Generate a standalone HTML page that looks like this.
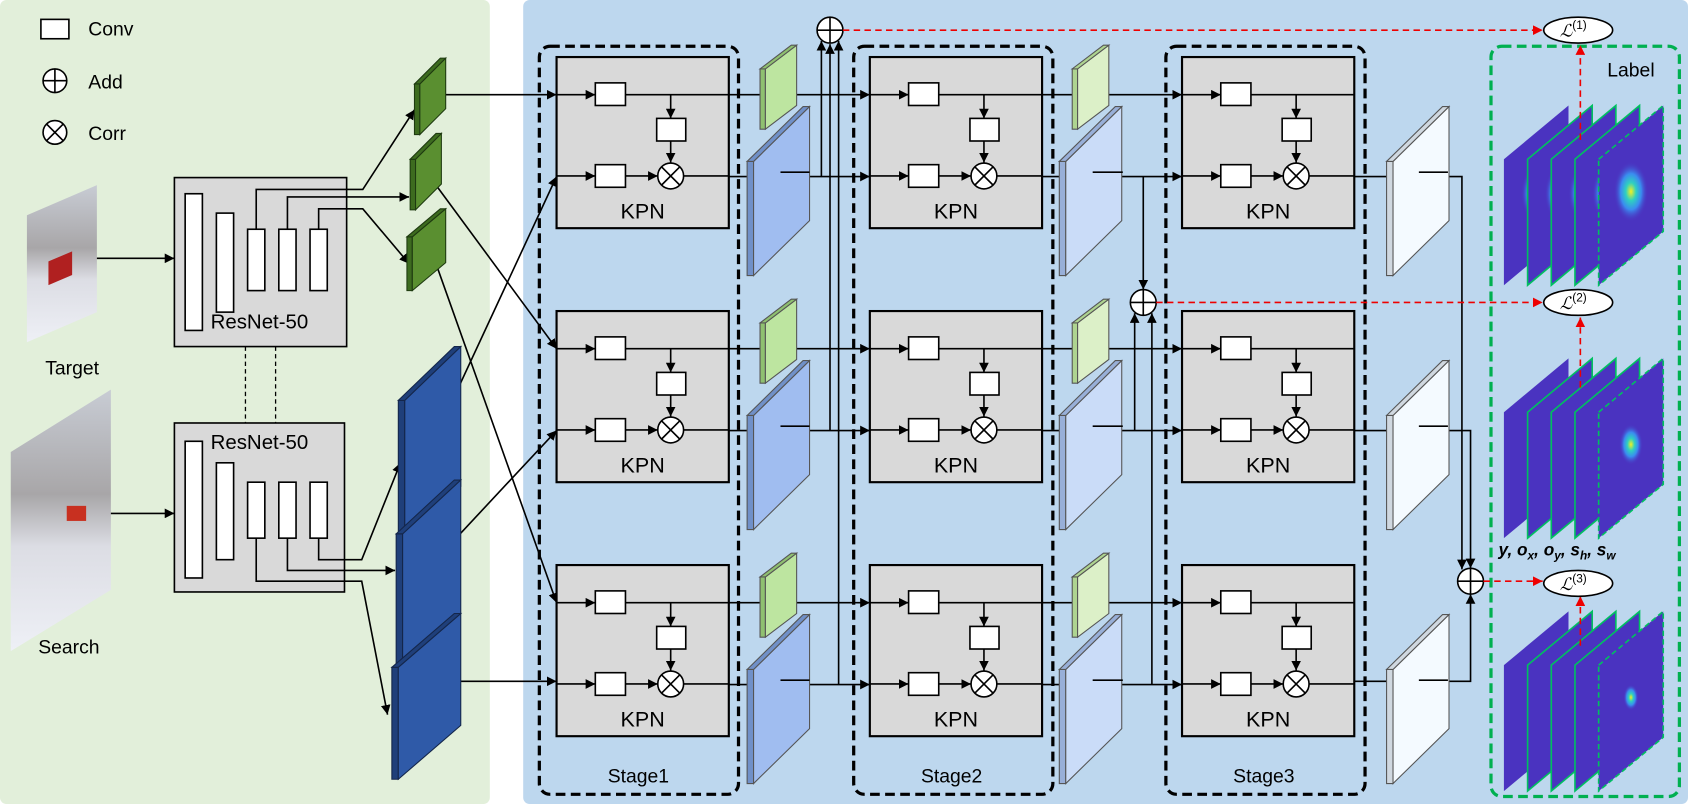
<!DOCTYPE html>
<html><head><meta charset="utf-8"><style>html,body{margin:0;padding:0;background:#fff}svg{display:block}text{font-family:"Liberation Sans",sans-serif}</style></head><body>
<svg width="1688" height="804" viewBox="0 0 1568 747" preserveAspectRatio="none" xmlns="http://www.w3.org/2000/svg">
<defs>
<marker id="a" viewBox="0 0 10 10" refX="10" refY="5" markerWidth="9" markerHeight="9" markerUnits="userSpaceOnUse" orient="auto"><path d="M0,0L10,5L0,10z" fill="#000"/></marker>
<marker id="r" viewBox="0 0 10 10" refX="10" refY="5" markerWidth="9" markerHeight="9" markerUnits="userSpaceOnUse" orient="auto"><path d="M0,0L10,5L0,10z" fill="#e00"/></marker>
<radialGradient id="g1" cx="0.5" cy="0.5" r="0.5"><stop offset="0" stop-color="#f4f020"/><stop offset="0.3" stop-color="#2fd0c0"/><stop offset="0.6" stop-color="#3a8cf0"/><stop offset="1" stop-color="#4a33c0" stop-opacity="0"/></radialGradient>
<linearGradient id="photo" x1="0" y1="0" x2="0" y2="1"><stop offset="0" stop-color="#c8ccd4"/><stop offset="0.4" stop-color="#a8a6a8"/><stop offset="0.6" stop-color="#dcdde4"/><stop offset="1" stop-color="#eef0f6"/></linearGradient>
</defs>
<rect x="0" y="0" width="455" height="747" rx="6" fill="#e2efda"/>
<rect x="486" y="0" width="1082" height="747" rx="6" fill="#bdd7ee"/>
<!-- legend -->
<rect x="38" y="18" width="26" height="18" fill="#fff" stroke="#000" stroke-width="1.5"/>
<text x="82" y="33" font-size="18">Conv</text>
<circle cx="51" cy="75" r="11" fill="#fff" stroke="#000" stroke-width="1.5"/><path d="M40,75h22M51,64v22" stroke="#000" stroke-width="1.5"/>
<text x="82" y="82" font-size="18">Add</text>
<circle cx="51" cy="123" r="11" fill="#fff" stroke="#000" stroke-width="1.5"/><path d="M43.2,115.2l15.6,15.6M58.8,115.2l-15.6,15.6" stroke="#000" stroke-width="1.5"/>
<text x="82" y="130" font-size="18">Corr</text>
<!-- photos -->
<polygon points="25,200 90,172 90,290 25,318" fill="url(#photo)"/>
<rect x="45" y="240" width="22" height="22" fill="#b02020" transform="skewY(-23) translate(0,22)"/>
<text x="67" y="348" font-size="18" text-anchor="middle">Target</text>
<polygon points="10,420 103,362 103,548 10,605" fill="url(#photo)"/>
<rect x="62" y="470" width="18" height="14" fill="#c83020"/>
<text x="64" y="607" font-size="18" text-anchor="middle">Search</text>
<path d="M90,240H162" stroke="#000" stroke-width="1.5" marker-end="url(#a)"/>
<path d="M103,477H162" stroke="#000" stroke-width="1.5" marker-end="url(#a)"/>
<!-- resnets -->
<rect x="162" y="165" width="160" height="157" fill="#d9d9d9" stroke="#000" stroke-width="1.5"/>
<g fill="#fff" stroke="#000" stroke-width="1.5"><rect x="172" y="180" width="16" height="127"/><rect x="201" y="198" width="16" height="92"/><rect x="230" y="213" width="16" height="57"/><rect x="259" y="213" width="16" height="57"/><rect x="288" y="213" width="16" height="57"/></g>
<text x="241" y="305" font-size="19" text-anchor="middle">ResNet-50</text>
<rect x="162" y="393" width="158" height="157" fill="#d9d9d9" stroke="#000" stroke-width="1.5"/>
<g fill="#fff" stroke="#000" stroke-width="1.5"><rect x="172" y="410" width="16" height="127"/><rect x="201" y="430" width="16" height="90"/><rect x="230" y="448" width="16" height="52"/><rect x="259" y="448" width="16" height="52"/><rect x="288" y="448" width="16" height="52"/></g>
<text x="241" y="417" font-size="19" text-anchor="middle">ResNet-50</text>
<path d="M228,322V393M256,322V393" stroke="#000" stroke-width="1.2" stroke-dasharray="4,3"/>
<g stroke="#000" stroke-width="1.5" fill="none">
<path d="M238,213V176H337L385,102" marker-end="url(#a)"/>
<path d="M267,213V183H380" marker-end="url(#a)"/>
<path d="M296,213V194H337L380,245" marker-end="url(#a)"/>
<path d="M296,500V520H336L372,430" marker-end="url(#a)"/>
<path d="M267,500V530H367" marker-end="url(#a)"/>
<path d="M238,500V540H336L360,664" marker-end="url(#a)"/>
<!-- feature to KPN -->
<path d="M405,88H517" marker-end="url(#a)"/>
<path d="M405,172L517,324" marker-end="url(#a)"/>
<path d="M405,245L517,560" marker-end="url(#a)"/>
<path d="M405,405L517,164" marker-end="url(#a)"/>
<path d="M405,520L517,400" marker-end="url(#a)"/>
<path d="M405,633H517" marker-end="url(#a)"/>
</g>
<!-- left feature slabs -->
<g stroke="#1e3a10" stroke-width="1">
<polygon points="385,78 390,78 390,125 385,125" fill="#3d6b1f"/><polygon points="390,78 414,54 414,101 390,125" fill="#5a8f30"/><polygon points="385,78 409,54 414,54 390,78" fill="#3d6b1f"/>
<polygon points="381,148 386,148 386,195 381,195" fill="#3d6b1f"/><polygon points="386,148 410,124 410,171 386,195" fill="#5a8f30"/><polygon points="381,148 405,124 410,124 386,148" fill="#3d6b1f"/>
<polygon points="378,220 383,220 383,270 378,270" fill="#3d6b1f"/><polygon points="383,220 414,194 414,244 383,270" fill="#5a8f30"/><polygon points="378,220 409,194 414,194 383,220" fill="#3d6b1f"/>
</g>
<g stroke="#14264a" stroke-width="1">
<polygon points="370,372 376,372 376,502 370,502" fill="#1f3f7a"/><polygon points="376,372 428,322 428,452 376,502" fill="#2f5aa8"/><polygon points="370,372 422,322 428,322 376,372" fill="#1f3f7a"/>
<polygon points="368,496 374,496 374,620 368,620" fill="#1f3f7a"/><polygon points="374,496 428,446 428,570 374,620" fill="#2f5aa8"/><polygon points="368,496 422,446 428,446 374,496" fill="#1f3f7a"/>
<polygon points="364,620 370,620 370,724 364,724" fill="#1f3f7a"/><polygon points="370,620 428,570 428,674 370,724" fill="#2f5aa8"/><polygon points="364,620 422,570 428,570 370,620" fill="#1f3f7a"/>
</g>
<!-- stage dashed boxes -->
<g fill="none" stroke="#000" stroke-width="3" stroke-dasharray="9,5">
<rect x="501" y="43" width="185" height="695" rx="10"/>
<rect x="793" y="43" width="185" height="695" rx="10"/>
<rect x="1083" y="43" width="185" height="695" rx="10"/>
</g>
<rect x="1385" y="43" width="175" height="697" rx="10" fill="none" stroke="#00b050" stroke-width="3" stroke-dasharray="9,5"/>
<text x="593" y="727" font-size="18" text-anchor="middle">Stage1</text>
<text x="884" y="727" font-size="18" text-anchor="middle">Stage2</text>
<text x="1174" y="727" font-size="18" text-anchor="middle">Stage3</text>
<text x="1515" y="71" font-size="18" text-anchor="middle">Label</text>
<!-- inter-stage lines -->
<g stroke="#000" stroke-width="1.5" fill="none">
<path d="M677,88H808" marker-end="url(#a)"/><path d="M677,324H808" marker-end="url(#a)"/><path d="M677,560H808" marker-end="url(#a)"/>
<path d="M677,164H808" marker-end="url(#a)"/><path d="M677,400H808" marker-end="url(#a)"/><path d="M677,636H808" marker-end="url(#a)"/>
<path d="M968,88H1098" marker-end="url(#a)"/><path d="M968,324H1098" marker-end="url(#a)"/><path d="M968,560H1098" marker-end="url(#a)"/>
<path d="M968,164H1098" marker-end="url(#a)"/><path d="M968,400H1098" marker-end="url(#a)"/><path d="M968,636H1098" marker-end="url(#a)"/>
<path d="M763,164V38" marker-end="url(#a)"/><path d="M771,400V41" marker-end="url(#a)"/><path d="M779,636V38" marker-end="url(#a)"/>
<path d="M1062,164V269" marker-end="url(#a)"/><path d="M1054,400V291" marker-end="url(#a)"/><path d="M1070,636V291" marker-end="url(#a)"/>
<path d="M1258,164H1358V529" marker-end="url(#a)"/><path d="M1258,400H1366V528" marker-end="url(#a)"/><path d="M1258,633H1366V552" marker-end="url(#a)"/>
</g>
<!-- slabs stage outputs -->
<g stroke="#555" stroke-width="1">
<g id="s1">
<polygon points="706,64 711,64 711,120 706,120" fill="#8fc070"/><polygon points="711,64 740,42 740,98 711,120" fill="#bde5a0"/><polygon points="706,64 735,42 740,42 711,64" fill="#8fc070"/>
<polygon points="694,150 700,150 700,256 694,256" fill="#7090c8"/><polygon points="700,150 752,99 752,205 700,256" fill="#a0bdf0"/><polygon points="694,150 746,99 752,99 700,150" fill="#7090c8"/>
</g>
<g transform="translate(0,236)"><polygon points="706,64 711,64 711,120 706,120" fill="#8fc070"/><polygon points="711,64 740,42 740,98 711,120" fill="#bde5a0"/><polygon points="706,64 735,42 740,42 711,64" fill="#8fc070"/><polygon points="694,150 700,150 700,256 694,256" fill="#7090c8"/><polygon points="700,150 752,99 752,205 700,256" fill="#a0bdf0"/><polygon points="694,150 746,99 752,99 700,150" fill="#7090c8"/></g>
<g transform="translate(0,472)"><polygon points="706,64 711,64 711,120 706,120" fill="#8fc070"/><polygon points="711,64 740,42 740,98 711,120" fill="#bde5a0"/><polygon points="706,64 735,42 740,42 711,64" fill="#8fc070"/><polygon points="694,150 700,150 700,256 694,256" fill="#7090c8"/><polygon points="700,150 752,99 752,205 700,256" fill="#a0bdf0"/><polygon points="694,150 746,99 752,99 700,150" fill="#7090c8"/></g>
<g transform="translate(290,0)"><polygon points="706,64 711,64 711,120 706,120" fill="#aed490"/><polygon points="711,64 740,42 740,98 711,120" fill="#dcf0c8"/><polygon points="706,64 735,42 740,42 711,64" fill="#aed490"/><polygon points="694,150 700,150 700,256 694,256" fill="#98afd8"/><polygon points="700,150 752,99 752,205 700,256" fill="#cadcf8"/><polygon points="694,150 746,99 752,99 700,150" fill="#98afd8"/></g>
<g transform="translate(290,236)"><polygon points="706,64 711,64 711,120 706,120" fill="#aed490"/><polygon points="711,64 740,42 740,98 711,120" fill="#dcf0c8"/><polygon points="706,64 735,42 740,42 711,64" fill="#aed490"/><polygon points="694,150 700,150 700,256 694,256" fill="#98afd8"/><polygon points="700,150 752,99 752,205 700,256" fill="#cadcf8"/><polygon points="694,150 746,99 752,99 700,150" fill="#98afd8"/></g>
<g transform="translate(290,472)"><polygon points="706,64 711,64 711,120 706,120" fill="#aed490"/><polygon points="711,64 740,42 740,98 711,120" fill="#dcf0c8"/><polygon points="706,64 735,42 740,42 711,64" fill="#aed490"/><polygon points="694,150 700,150 700,256 694,256" fill="#98afd8"/><polygon points="700,150 752,99 752,205 700,256" fill="#cadcf8"/><polygon points="694,150 746,99 752,99 700,150" fill="#98afd8"/></g>
<g transform="translate(594,0)"><polygon points="694,150 700,150 700,256 694,256" fill="#d0d8e0"/><polygon points="700,150 752,99 752,205 700,256" fill="#f4faff"/><polygon points="694,150 746,99 752,99 700,150" fill="#d0d8e0"/></g>
<g transform="translate(594,236)"><polygon points="694,150 700,150 700,256 694,256" fill="#d0d8e0"/><polygon points="700,150 752,99 752,205 700,256" fill="#f4faff"/><polygon points="694,150 746,99 752,99 700,150" fill="#d0d8e0"/></g>
<g transform="translate(594,472)"><polygon points="694,150 700,150 700,256 694,256" fill="#d0d8e0"/><polygon points="700,150 752,99 752,205 700,256" fill="#f4faff"/><polygon points="694,150 746,99 752,99 700,150" fill="#d0d8e0"/></g>
</g>
<!-- short line stubs out of slabs -->
<g stroke="#000" stroke-width="1.5"><path d="M725,160H752M725,396H752M725,632H752M1015,160H1043M1015,396H1043M1015,632H1043M1318,160H1345M1318,396H1345M1318,632H1345"/></g>
<!-- KPN blocks -->
<g id="k" transform="translate(517,53)">
<rect x="0" y="0" width="160" height="159" fill="#d9d9d9" stroke="#000" stroke-width="2"/>
<g stroke="#000" stroke-width="1.5" fill="none"><path d="M0,35H36" marker-end="url(#a)"/><path d="M64,35H160"/><path d="M106,35V57" marker-end="url(#a)"/><path d="M106,78V98" marker-end="url(#a)"/><path d="M0,110.5H36" marker-end="url(#a)"/><path d="M64,110.5H94" marker-end="url(#a)"/><path d="M118,110.5H160"/></g>
<g fill="#fff" stroke="#000" stroke-width="1.5"><rect x="36" y="24" width="28" height="21"/><rect x="36" y="100" width="28" height="21"/><rect x="93" y="57" width="27" height="21"/><circle cx="106" cy="110.5" r="12"/></g>
<path d="M97.5,102l17,17M114.5,102l-17,17" stroke="#000" stroke-width="1.5"/>
<text x="80" y="150" font-size="20" text-anchor="middle">KPN</text>
</g>
<g transform="translate(517,289)"><rect x="0" y="0" width="160" height="159" fill="#d9d9d9" stroke="#000" stroke-width="2"/><g stroke="#000" stroke-width="1.5" fill="none"><path d="M0,35H36" marker-end="url(#a)"/><path d="M64,35H160"/><path d="M106,35V57" marker-end="url(#a)"/><path d="M106,78V98" marker-end="url(#a)"/><path d="M0,110.5H36" marker-end="url(#a)"/><path d="M64,110.5H94" marker-end="url(#a)"/><path d="M118,110.5H160"/></g><g fill="#fff" stroke="#000" stroke-width="1.5"><rect x="36" y="24" width="28" height="21"/><rect x="36" y="100" width="28" height="21"/><rect x="93" y="57" width="27" height="21"/><circle cx="106" cy="110.5" r="12"/></g><path d="M97.5,102l17,17M114.5,102l-17,17" stroke="#000" stroke-width="1.5"/><text x="80" y="150" font-size="20" text-anchor="middle">KPN</text></g>
<g transform="translate(517,525)"><rect x="0" y="0" width="160" height="159" fill="#d9d9d9" stroke="#000" stroke-width="2"/><g stroke="#000" stroke-width="1.5" fill="none"><path d="M0,35H36" marker-end="url(#a)"/><path d="M64,35H160"/><path d="M106,35V57" marker-end="url(#a)"/><path d="M106,78V98" marker-end="url(#a)"/><path d="M0,110.5H36" marker-end="url(#a)"/><path d="M64,110.5H94" marker-end="url(#a)"/><path d="M118,110.5H160"/></g><g fill="#fff" stroke="#000" stroke-width="1.5"><rect x="36" y="24" width="28" height="21"/><rect x="36" y="100" width="28" height="21"/><rect x="93" y="57" width="27" height="21"/><circle cx="106" cy="110.5" r="12"/></g><path d="M97.5,102l17,17M114.5,102l-17,17" stroke="#000" stroke-width="1.5"/><text x="80" y="150" font-size="20" text-anchor="middle">KPN</text></g>
<g transform="translate(808,53)"><rect x="0" y="0" width="160" height="159" fill="#d9d9d9" stroke="#000" stroke-width="2"/><g stroke="#000" stroke-width="1.5" fill="none"><path d="M0,35H36" marker-end="url(#a)"/><path d="M64,35H160"/><path d="M106,35V57" marker-end="url(#a)"/><path d="M106,78V98" marker-end="url(#a)"/><path d="M0,110.5H36" marker-end="url(#a)"/><path d="M64,110.5H94" marker-end="url(#a)"/><path d="M118,110.5H160"/></g><g fill="#fff" stroke="#000" stroke-width="1.5"><rect x="36" y="24" width="28" height="21"/><rect x="36" y="100" width="28" height="21"/><rect x="93" y="57" width="27" height="21"/><circle cx="106" cy="110.5" r="12"/></g><path d="M97.5,102l17,17M114.5,102l-17,17" stroke="#000" stroke-width="1.5"/><text x="80" y="150" font-size="20" text-anchor="middle">KPN</text></g>
<g transform="translate(808,289)"><rect x="0" y="0" width="160" height="159" fill="#d9d9d9" stroke="#000" stroke-width="2"/><g stroke="#000" stroke-width="1.5" fill="none"><path d="M0,35H36" marker-end="url(#a)"/><path d="M64,35H160"/><path d="M106,35V57" marker-end="url(#a)"/><path d="M106,78V98" marker-end="url(#a)"/><path d="M0,110.5H36" marker-end="url(#a)"/><path d="M64,110.5H94" marker-end="url(#a)"/><path d="M118,110.5H160"/></g><g fill="#fff" stroke="#000" stroke-width="1.5"><rect x="36" y="24" width="28" height="21"/><rect x="36" y="100" width="28" height="21"/><rect x="93" y="57" width="27" height="21"/><circle cx="106" cy="110.5" r="12"/></g><path d="M97.5,102l17,17M114.5,102l-17,17" stroke="#000" stroke-width="1.5"/><text x="80" y="150" font-size="20" text-anchor="middle">KPN</text></g>
<g transform="translate(808,525)"><rect x="0" y="0" width="160" height="159" fill="#d9d9d9" stroke="#000" stroke-width="2"/><g stroke="#000" stroke-width="1.5" fill="none"><path d="M0,35H36" marker-end="url(#a)"/><path d="M64,35H160"/><path d="M106,35V57" marker-end="url(#a)"/><path d="M106,78V98" marker-end="url(#a)"/><path d="M0,110.5H36" marker-end="url(#a)"/><path d="M64,110.5H94" marker-end="url(#a)"/><path d="M118,110.5H160"/></g><g fill="#fff" stroke="#000" stroke-width="1.5"><rect x="36" y="24" width="28" height="21"/><rect x="36" y="100" width="28" height="21"/><rect x="93" y="57" width="27" height="21"/><circle cx="106" cy="110.5" r="12"/></g><path d="M97.5,102l17,17M114.5,102l-17,17" stroke="#000" stroke-width="1.5"/><text x="80" y="150" font-size="20" text-anchor="middle">KPN</text></g>
<g transform="translate(1098,53)"><rect x="0" y="0" width="160" height="159" fill="#d9d9d9" stroke="#000" stroke-width="2"/><g stroke="#000" stroke-width="1.5" fill="none"><path d="M0,35H36" marker-end="url(#a)"/><path d="M64,35H160"/><path d="M106,35V57" marker-end="url(#a)"/><path d="M106,78V98" marker-end="url(#a)"/><path d="M0,110.5H36" marker-end="url(#a)"/><path d="M64,110.5H94" marker-end="url(#a)"/><path d="M118,110.5H160"/></g><g fill="#fff" stroke="#000" stroke-width="1.5"><rect x="36" y="24" width="28" height="21"/><rect x="36" y="100" width="28" height="21"/><rect x="93" y="57" width="27" height="21"/><circle cx="106" cy="110.5" r="12"/></g><path d="M97.5,102l17,17M114.5,102l-17,17" stroke="#000" stroke-width="1.5"/><text x="80" y="150" font-size="20" text-anchor="middle">KPN</text></g>
<g transform="translate(1098,289)"><rect x="0" y="0" width="160" height="159" fill="#d9d9d9" stroke="#000" stroke-width="2"/><g stroke="#000" stroke-width="1.5" fill="none"><path d="M0,35H36" marker-end="url(#a)"/><path d="M64,35H160"/><path d="M106,35V57" marker-end="url(#a)"/><path d="M106,78V98" marker-end="url(#a)"/><path d="M0,110.5H36" marker-end="url(#a)"/><path d="M64,110.5H94" marker-end="url(#a)"/><path d="M118,110.5H160"/></g><g fill="#fff" stroke="#000" stroke-width="1.5"><rect x="36" y="24" width="28" height="21"/><rect x="36" y="100" width="28" height="21"/><rect x="93" y="57" width="27" height="21"/><circle cx="106" cy="110.5" r="12"/></g><path d="M97.5,102l17,17M114.5,102l-17,17" stroke="#000" stroke-width="1.5"/><text x="80" y="150" font-size="20" text-anchor="middle">KPN</text></g>
<g transform="translate(1098,525)"><rect x="0" y="0" width="160" height="159" fill="#d9d9d9" stroke="#000" stroke-width="2"/><g stroke="#000" stroke-width="1.5" fill="none"><path d="M0,35H36" marker-end="url(#a)"/><path d="M64,35H160"/><path d="M106,35V57" marker-end="url(#a)"/><path d="M106,78V98" marker-end="url(#a)"/><path d="M0,110.5H36" marker-end="url(#a)"/><path d="M64,110.5H94" marker-end="url(#a)"/><path d="M118,110.5H160"/></g><g fill="#fff" stroke="#000" stroke-width="1.5"><rect x="36" y="24" width="28" height="21"/><rect x="36" y="100" width="28" height="21"/><rect x="93" y="57" width="27" height="21"/><circle cx="106" cy="110.5" r="12"/></g><path d="M97.5,102l17,17M114.5,102l-17,17" stroke="#000" stroke-width="1.5"/><text x="80" y="150" font-size="20" text-anchor="middle">KPN</text></g>
<!-- add circles -->
<g fill="#fff" stroke="#000" stroke-width="1.5">
<circle cx="771" cy="28" r="12"/><circle cx="1062" cy="281" r="12"/><circle cx="1366" cy="540" r="12"/></g>
<path d="M759,28h24M771,16v24M1050,281h24M1062,269v24M1354,540h24M1366,528v24" stroke="#000" stroke-width="1.5"/>
<!-- red dashed -->
<g stroke="#e00" stroke-width="1.5" stroke-dasharray="6,4" fill="none">
<path d="M783,28H1433" marker-end="url(#r)"/><path d="M1074,281H1433" marker-end="url(#r)"/><path d="M1378,540H1433" marker-end="url(#r)"/>
</g>
<!-- heatmaps -->
<g id="h1">
<g stroke="#00c060" stroke-width="1.5">
<polygon points="1397,148 1457,98 1457,215 1397,265" fill="#4a33c0" stroke="none"/><ellipse cx="1427" cy="180" rx="14" ry="26" fill="url(#g1)" stroke="none"/>
<polygon points="1419,148 1479,98 1479,215 1419,265" fill="#4a33c0"/><ellipse cx="1449" cy="180" rx="14" ry="26" fill="url(#g1)" stroke="none"/>
<polygon points="1441,148 1501,98 1501,215 1441,265" fill="#4a33c0"/><ellipse cx="1471" cy="180" rx="14" ry="26" fill="url(#g1)" stroke="none"/>
<polygon points="1463,148 1523,98 1523,215 1463,265" fill="#4a33c0"/><ellipse cx="1493" cy="180" rx="14" ry="26" fill="url(#g1)" stroke="none"/>
<polygon points="1485,148 1545,98 1545,215 1485,265" fill="#4a33c0" stroke-dasharray="5,3"/><ellipse cx="1515" cy="178" rx="16" ry="28" fill="url(#g1)" stroke="none"/>
</g></g>
<g transform="translate(0,235)"><g stroke="#00c060" stroke-width="1.5">
<polygon points="1397,148 1457,98 1457,215 1397,265" fill="#4a33c0" stroke="none"/><ellipse cx="1427" cy="180" rx="10" ry="18" fill="url(#g1)" stroke="none"/>
<polygon points="1419,148 1479,98 1479,215 1419,265" fill="#4a33c0"/><ellipse cx="1449" cy="180" rx="10" ry="18" fill="url(#g1)" stroke="none"/>
<polygon points="1441,148 1501,98 1501,215 1441,265" fill="#4a33c0"/><ellipse cx="1471" cy="180" rx="10" ry="18" fill="url(#g1)" stroke="none"/>
<polygon points="1463,148 1523,98 1523,215 1463,265" fill="#4a33c0"/><ellipse cx="1493" cy="180" rx="10" ry="18" fill="url(#g1)" stroke="none"/>
<polygon points="1485,148 1545,98 1545,215 1485,265" fill="#4a33c0" stroke-dasharray="5,3"/><ellipse cx="1515" cy="178" rx="11" ry="19" fill="url(#g1)" stroke="none"/>
</g></g>
<g transform="translate(0,470)"><g stroke="#00c060" stroke-width="1.5">
<polygon points="1397,148 1457,98 1457,215 1397,265" fill="#4a33c0" stroke="none"/>
<polygon points="1419,148 1479,98 1479,215 1419,265" fill="#4a33c0"/>
<polygon points="1441,148 1501,98 1501,215 1441,265" fill="#4a33c0"/>
<polygon points="1463,148 1523,98 1523,215 1463,265" fill="#4a33c0"/>
<polygon points="1485,148 1545,98 1545,215 1485,265" fill="#4a33c0" stroke-dasharray="5,3"/><ellipse cx="1515" cy="178" rx="7" ry="12" fill="url(#g1)" stroke="none"/>
</g></g>
<g stroke="#e00" stroke-width="1.5" stroke-dasharray="6,4" fill="none">
<path d="M1468,130V42" marker-end="url(#r)"/><path d="M1468,360V295" marker-end="url(#r)"/><path d="M1468,600V554" marker-end="url(#r)"/>
</g>
<!-- losses -->
<g fill="#fff" stroke="#000" stroke-width="1.5"><ellipse cx="1466" cy="28" rx="32" ry="12"/><ellipse cx="1466" cy="281" rx="32" ry="12"/><ellipse cx="1466" cy="542" rx="32" ry="12"/></g>
<g font-family="Liberation Serif, serif" font-style="italic" font-size="16">
<text x="1449" y="34">ℒ<tspan font-size="11" dy="-7" font-style="normal">(1)</tspan></text>
<text x="1449" y="287">ℒ<tspan font-size="11" dy="-7" font-style="normal">(2)</tspan></text>
<text x="1449" y="548">ℒ<tspan font-size="11" dy="-7" font-style="normal">(3)</tspan></text>
</g>
<text x="1392" y="516" font-family="Liberation Serif, serif" font-style="italic" font-weight="bold" font-size="16">y, o<tspan font-size="11" dy="4">x</tspan><tspan dy="-4">, o</tspan><tspan font-size="11" dy="4">y</tspan><tspan dy="-4">, s</tspan><tspan font-size="11" dy="4">h</tspan><tspan dy="-4">, s</tspan><tspan font-size="11" dy="4">w</tspan></text>
</svg>
</body></html>
